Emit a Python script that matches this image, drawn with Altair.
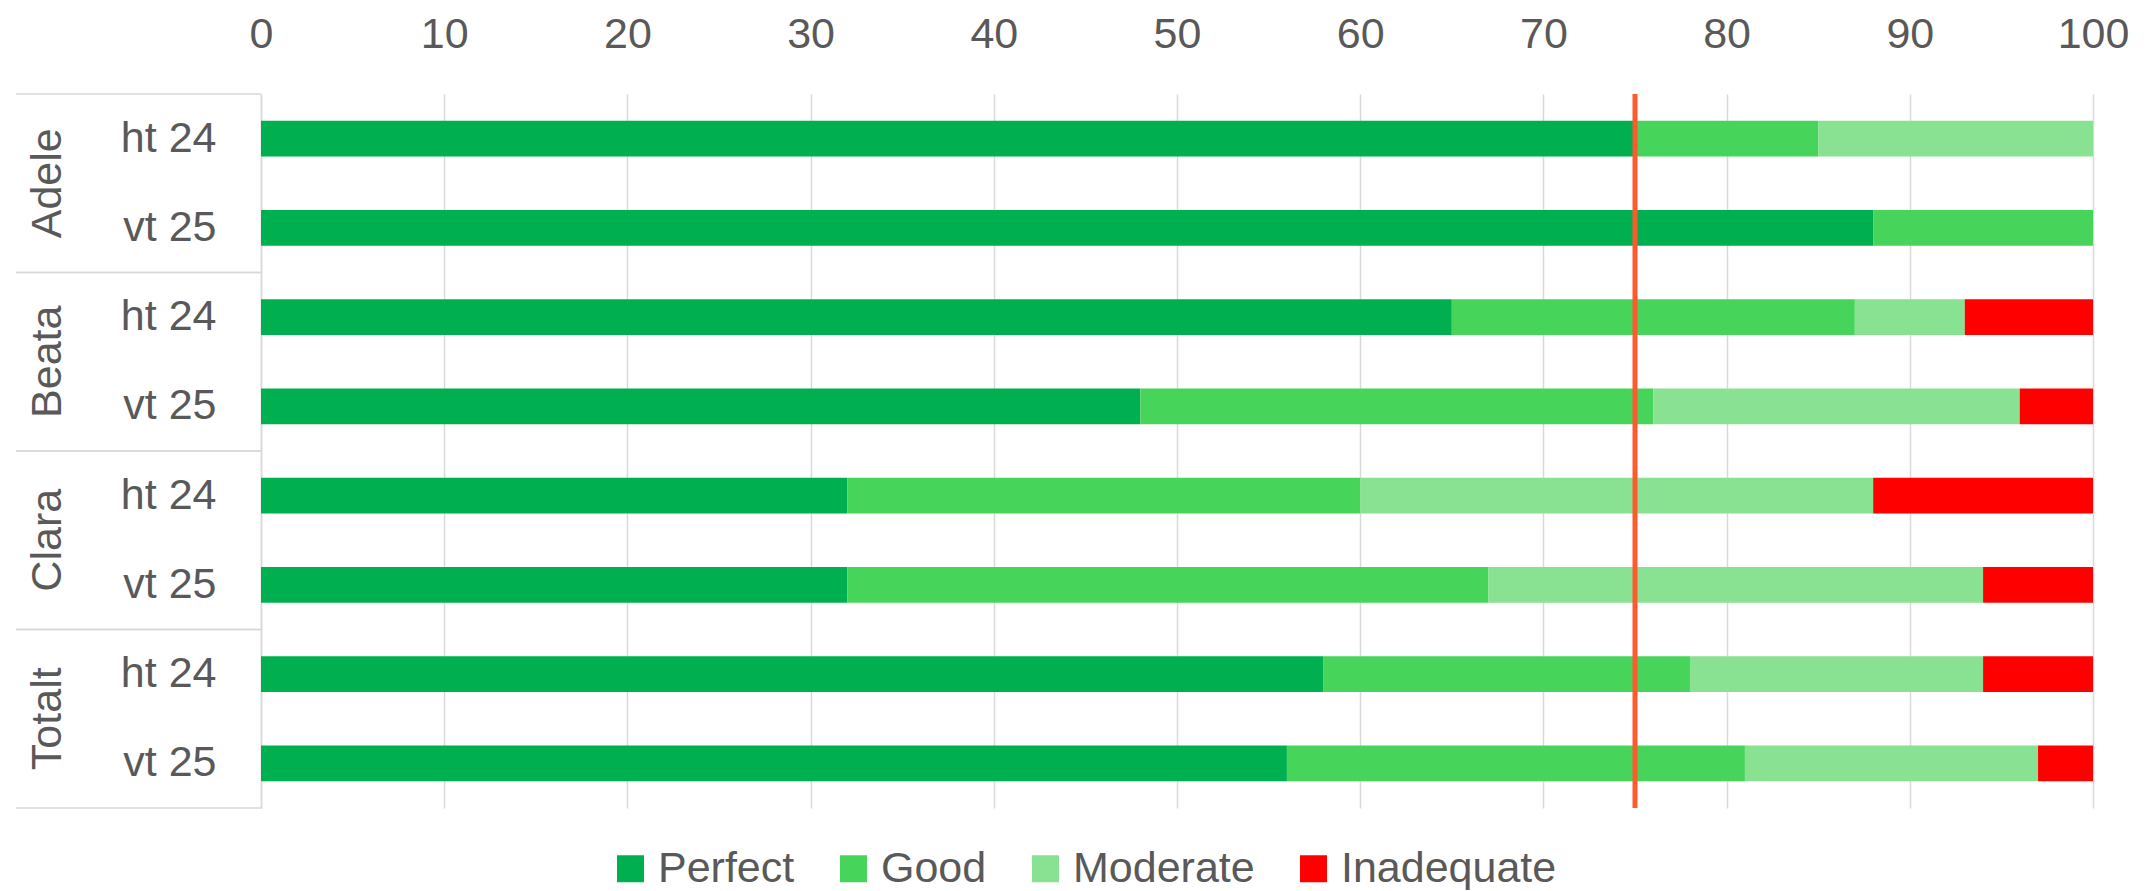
import altair as alt
import pandas as pd

FONT = "Liberation Sans"
GREY = "#595959"
LINE = "#D9D9D9"
FS = 43

groups = ["Adele", "Beata", "Clara", "Totalt"]
periods = ["ht 24", "vt 25"]
categories = ["Perfect", "Good", "Moderate", "Inadequate"]
colors = ["#00B050", "#47D45A", "#88E291", "#FF0000"]

# one value per row: Adele ht24, Adele vt25, Beata ht24, Beata vt25, Clara ht24, Clara vt25, Totalt ht24, Totalt vt25
perfect = [75, 88, 65, 48, 32, 32, 58, 56]
good = [10, 12, 22, 28, 28, 35, 20, 25]
moderate = [15, 0, 6, 20, 28, 27, 16, 16]
inadequate = [0, 0, 7, 4, 12, 6, 6, 3]
target = [75]
x_ticks = [0, 10, 20, 30, 40, 50, 60, 70, 80, 90, 100]

series = [perfect, good, moderate, inadequate]
keys = [f"{g}|{p}" for g in groups for p in periods]

rows = []
for ci, (cat, vals) in enumerate(zip(categories, series)):
    for k, v in zip(keys, vals):
        if v > 0:
            rows.append({"key": k, "category": cat, "ord": ci, "value": v})
df = pd.DataFrame(rows)
grp_df = pd.DataFrame({"group": groups})
tgt_df = pd.DataFrame({"t": target})

xscale = alt.Scale(domain=[0, 100], nice=False, zero=True)
gscale = alt.Scale(domain=groups, paddingInner=0, paddingOuter=0)

bars = alt.Chart(df).mark_bar().encode(
    x=alt.X("value:Q", stack="zero", scale=xscale, title=None,
            axis=alt.Axis(orient="top", values=x_ticks, grid=True, gridColor=LINE,
                          gridWidth=1.5, domain=False, ticks=False, tickSize=0,
                          labelPadding=60, labelBaseline="middle", labelFontSize=FS,
                          labelColor=GREY, labelFont=FONT, labelFlush=False,
                          labelOverlap=False)),
    y=alt.Y("key:N", sort=keys, title=None,
            scale=alt.Scale(domain=keys, paddingInner=0.6, paddingOuter=0.3),
            axis=alt.Axis(labelExpr="split(datum.label, '|')[1]", ticks=False, tickSize=0,
                          domain=True, domainColor=LINE, domainWidth=1.5,
                          labelPadding=45, labelFontSize=FS, labelColor=GREY,
                          labelFont=FONT)),
    color=alt.Color("category:N", scale=alt.Scale(domain=categories, range=colors),
                    legend=alt.Legend(orient="none", legendX=348, legendY=753,
                                      direction="horizontal", columns=4, title=None,
                                      symbolType="square", symbolSize=729,
                                      symbolStrokeWidth=0, labelFontSize=FS,
                                      labelColor=GREY, labelFont=FONT, labelOffset=6,
                                      labelLimit=0, columnPadding=37, padding=0)),
    order=alt.Order("ord:Q"),
)

tgt = alt.Chart(tgt_df).mark_rule(color="#FF5A2D", strokeWidth=5).encode(
    x=alt.X("t:Q", scale=xscale, title=None)
)

grp_text = alt.Chart(grp_df).mark_text(
    angle=270, fontSize=FS, color=GREY, font=FONT, align="center", baseline="middle"
).encode(
    y=alt.Y("group:N", sort=groups, scale=gscale, axis=None),
    x=alt.value(-213),
    text="group:N",
)

sep_top = alt.Chart(grp_df).mark_rule(color=LINE, strokeWidth=1.5).encode(
    y=alt.Y("group:N", sort=groups, scale=gscale, axis=None, bandPosition=0),
    x=alt.value(-245), x2=alt.value(0),
)
sep_bot = alt.Chart(grp_df).mark_rule(color=LINE, strokeWidth=1.5).encode(
    y=alt.Y("group:N", sort=groups, scale=gscale, axis=None, bandPosition=1),
    x=alt.value(-245), x2=alt.value(0),
)

chart = alt.layer(bars, tgt, grp_text, sep_top, sep_bot).resolve_scale(
    y="independent"
).properties(
    width=1832, height=714,
    autosize=alt.AutoSizeParams(type="none"),
    padding={"left": 253, "top": 86, "right": 50, "bottom": 82},
    background="white",
).configure_view(stroke=None)

chart.save("out.html", embed_options={"renderer": "svg", "actions": False})
